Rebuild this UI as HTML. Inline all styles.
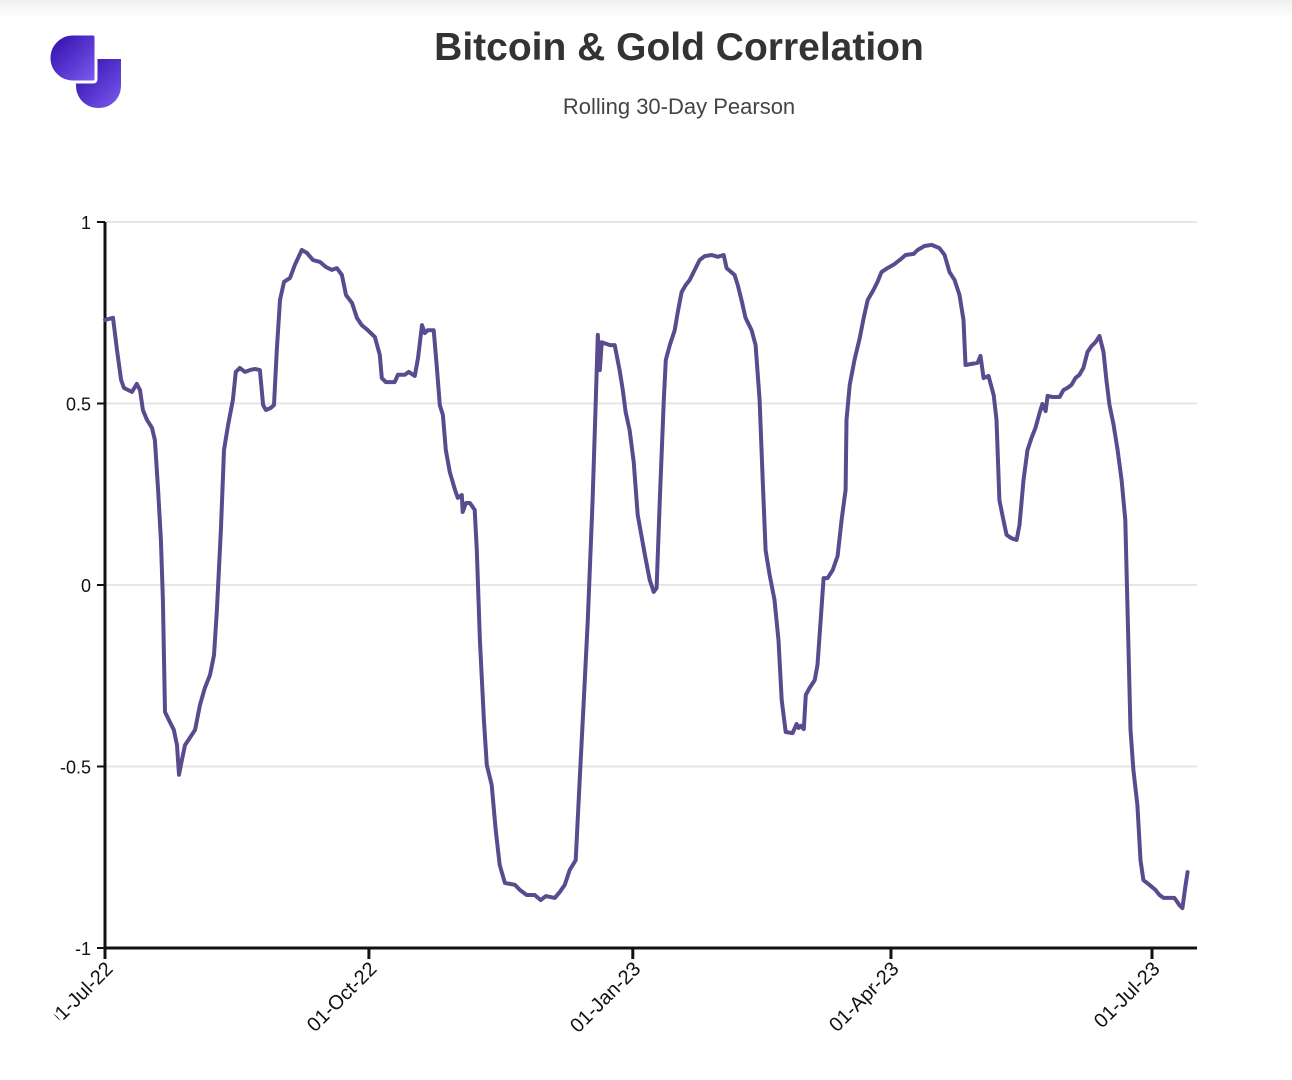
<!DOCTYPE html>
<html><head><meta charset="utf-8"><style>
body{margin:0;width:1292px;height:1080px;background:#fff;overflow:hidden;font-family:"Liberation Sans",sans-serif;position:relative}
#topshade{position:absolute;left:0;top:0;width:1292px;height:18px;background:linear-gradient(#f0f0f0,#fff)}
#title{position:absolute;left:0;width:1358px;top:26px;text-align:center;font-weight:bold;font-size:39px;color:#333}
#subtitle{position:absolute;left:0;width:1358px;top:94px;text-align:center;font-size:22px;color:#444}
</style></head><body>
<div id="topshade"></div>
<svg style="position:absolute;left:46px;top:32px" width="80" height="80" viewBox="0 0 80 80">
<defs><linearGradient id="lg" x1="0" y1="0" x2="1" y2="1"><stop offset="0" stop-color="#2d0aa8"/><stop offset="1" stop-color="#7c5cf0"/></linearGradient></defs>
<path d="M30 27 H75 V54 A22 22 0 0 1 53 76 H52 A22 22 0 0 1 30 54Z" fill="url(#lg)"/>
<path d="M27 2 H47 Q50 2 50 5 V47 Q50 50 47 50 H27 A24 24 0 0 1 27 2Z" fill="url(#lg)" stroke="#fff" stroke-width="3"/>
</svg>
<div id="title">Bitcoin &amp; Gold Correlation</div>
<div id="subtitle">Rolling 30-Day Pearson</div>
<svg id="chart" width="1292" height="1080" style="position:absolute;left:0;top:0"></svg>
<script>
const yTicks=[1,0.5,0,-0.5,-1];
const yTickLabels=["1","0.5","0","-0.5","-1"];
const xTickDays=[0,92,184,274,365];
const xTickLabels=["01-Jul-22","01-Oct-22","01-Jan-23","01-Apr-23","01-Jul-23"];
const days=[0,2.8,4.2,5.6,6.6,9.4,11.1,12.2,13.2,14.6,16.4,17.4,18.5,19.5,20.2,20.9,22.6,24.0,25.1,25.8,26.8,27.9,29.6,31.4,33.1,34.8,36.6,38.0,39.0,40.4,41.5,42.9,44.6,45.6,47.0,48.8,50.5,52.3,54.0,55.1,56.1,57.8,58.9,59.9,61.0,62.4,64.5,66.2,68.6,70.4,72.5,74.9,77.0,79.1,80.8,82.6,84.0,86.1,87.8,89.5,91.6,94.1,95.8,96.5,97.9,101.0,102.1,104.5,105.9,108.0,109.1,110.5,111.5,112.5,114.6,115.7,116.7,117.8,118.8,120.2,122.0,123.0,124.4,124.7,125.8,127.2,128.9,129.6,130.7,132.1,133.1,134.8,136.2,137.6,139.4,142.9,144.6,147.0,149.8,151.9,153.7,156.8,158.5,160.3,162.0,164.1,165.5,166.9,168.3,170.0,171.1,171.8,172.5,173.2,176.0,177.7,179.4,180.5,181.5,182.9,184.3,185.7,188.2,189.9,191.3,192.3,193.4,194.8,195.5,196.9,198.6,199.7,201.0,202.4,203.8,205.2,207.3,209.1,211.5,213.6,215.7,216.7,219.5,220.6,221.9,223.3,225.4,226.8,228.2,229.3,230.3,231.7,233.4,234.8,235.9,237.3,239.7,241.1,241.8,242.5,243.6,244.3,245.6,247.4,248.4,249.5,250.5,251.9,253.7,255.4,256.8,258.2,258.5,259.6,261.3,263.1,264.5,265.9,267.9,269.3,270.7,272.8,274.9,277.0,279.1,281.9,283.3,285.7,288.2,290.9,292.7,294.4,296.2,297.9,299.3,300.0,302.1,304.2,305.2,306.3,308.0,309.8,310.8,311.8,313.2,314.3,316.0,317.8,318.8,320.2,321.6,323.0,324.4,325.8,326.8,327.9,328.6,330.3,332.8,334.1,335.5,336.9,338.3,339.7,341.1,342.5,343.9,345.3,346.7,348.1,349.1,350.2,351.6,353.0,354.4,355.7,356.4,357.5,358.5,359.9,361.0,362.0,364.1,366.2,367.6,369.0,372.8,374.6,375.6,376.7,377.4];
const values=[0.73,0.736,0.647,0.565,0.543,0.532,0.554,0.537,0.482,0.455,0.433,0.399,0.262,0.124,-0.041,-0.35,-0.377,-0.399,-0.441,-0.523,-0.482,-0.441,-0.421,-0.399,-0.331,-0.284,-0.248,-0.193,-0.069,0.152,0.372,0.441,0.51,0.587,0.598,0.587,0.592,0.595,0.592,0.496,0.482,0.488,0.496,0.647,0.785,0.835,0.846,0.882,0.923,0.915,0.895,0.89,0.876,0.868,0.873,0.854,0.799,0.777,0.736,0.716,0.702,0.683,0.634,0.57,0.559,0.559,0.579,0.579,0.587,0.576,0.625,0.716,0.694,0.702,0.702,0.598,0.496,0.468,0.372,0.311,0.262,0.24,0.248,0.201,0.226,0.226,0.207,0.096,-0.152,-0.372,-0.496,-0.551,-0.675,-0.771,-0.821,-0.826,-0.84,-0.854,-0.854,-0.868,-0.857,-0.862,-0.846,-0.826,-0.785,-0.758,-0.537,-0.317,-0.096,0.234,0.51,0.689,0.592,0.669,0.661,0.661,0.592,0.537,0.477,0.427,0.339,0.193,0.083,0.014,-0.019,-0.008,0.234,0.51,0.62,0.661,0.702,0.752,0.807,0.826,0.84,0.862,0.895,0.906,0.909,0.904,0.909,0.873,0.854,0.826,0.785,0.736,0.702,0.661,0.51,0.289,0.096,0.028,-0.041,-0.152,-0.317,-0.405,-0.408,-0.383,-0.394,-0.388,-0.397,-0.303,-0.284,-0.262,-0.22,-0.096,0.019,0.019,0.041,0.08,0.179,0.262,0.455,0.551,0.62,0.68,0.736,0.785,0.813,0.835,0.862,0.873,0.882,0.895,0.909,0.912,0.923,0.934,0.937,0.928,0.909,0.862,0.84,0.799,0.73,0.606,0.609,0.612,0.631,0.57,0.576,0.523,0.455,0.234,0.179,0.138,0.129,0.124,0.165,0.289,0.372,0.405,0.433,0.474,0.499,0.479,0.521,0.518,0.518,0.537,0.543,0.551,0.57,0.579,0.598,0.642,0.658,0.669,0.686,0.642,0.565,0.496,0.441,0.372,0.289,0.179,-0.041,-0.399,-0.51,-0.606,-0.758,-0.813,-0.826,-0.84,-0.854,-0.862,-0.862,-0.882,-0.89,-0.826,-0.791];

const NS='http://www.w3.org/2000/svg';
const svg=document.getElementById('chart');
const X0=105,X1=1197,Y0=222,Y1=948;
function xs(d){return 105+d*(1152-105)/365;}
function ys(v){return 585-v*363;}
function mk(tag,attrs,parent){const e=document.createElementNS(NS,tag);for(const k in attrs)e.setAttribute(k,attrs[k]);(parent||svg).appendChild(e);return e;}
yTicks.forEach((t,i)=>{
  const g=mk('line',{x1:X0,x2:X1,y1:ys(t),y2:ys(t),stroke:'#e6e6e6','stroke-width':2});
  
  
  const tk=mk('line',{x1:X0-8,x2:X0,y1:ys(t),y2:ys(t),stroke:'#111','stroke-width':2});
  
  
  const tx=mk('text',{x:X0-14,y:ys(t)+7,'text-anchor':'end','font-size':18,fill:'#111','font-family':'Liberation Sans, sans-serif'});
  tx.textContent=yTickLabels[i];
  
  
});
const ya=mk('line',{x1:X0,x2:X0,y1:Y0,y2:Y1+2,stroke:'#111','stroke-width':3});


const xa=mk('line',{x1:X0-1,x2:X1,y1:Y1,y2:Y1,stroke:'#111','stroke-width':3});


xTickDays.forEach((d,i)=>{
  const x=xs(d);
  const tk=mk('line',{x1:x,x2:x,y1:Y1,y2:Y1+11,stroke:'#111','stroke-width':3});
  
  
  const tx=mk('text',{x:x+9,y:Y1+22,'text-anchor':'end','font-size':20,fill:'#111','font-family':'Liberation Sans, sans-serif',transform:`rotate(-45 ${x+9} ${Y1+22})`});
  tx.textContent=xTickLabels[i];
  
  
});
const cl=mk('clipPath',{id:'clipL'});
mk('rect',{x:40,y:0,width:1260,height:1080},cl);
svg.querySelectorAll('text').forEach(t=>t.setAttribute('clip-path','url(#clipL)'));
let dstr='';
days.forEach((d,i)=>{dstr+=(i?'L':'M')+xs(d).toFixed(1)+' '+ys(values[i]).toFixed(1);});
const line=mk('path',{d:dstr,fill:'none',stroke:'#5a4a8e','stroke-width':4,'stroke-linejoin':'round','stroke-linecap':'round'});


</script>
</body></html>
